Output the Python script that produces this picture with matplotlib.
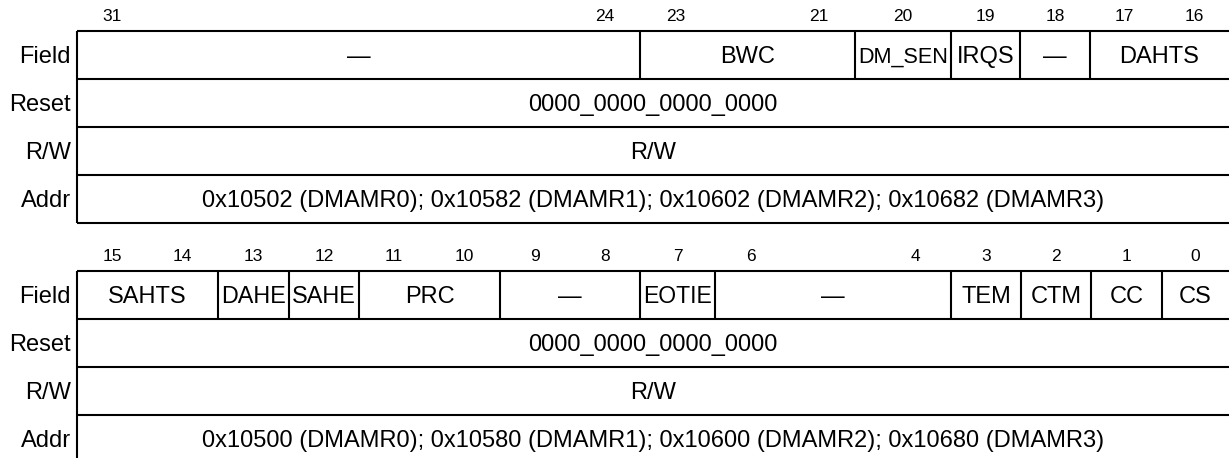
import matplotlib
matplotlib.use("Agg")
import matplotlib.pyplot as plt

# ---------------- data ----------------
row_labels = ["Field", "Reset", "R/W", "Addr"]

hi_fields = ["\u2014", "BWC", "DM_SEN", "IRQS", "\u2014", "DAHTS"]
hi_msb = [31, 23, 20, 19, 18, 17]
hi_lsb = [24, 21, 20, 19, 18, 16]
hi_reset = "0000_0000_0000_0000"
hi_rw = "R/W"
hi_addr = "0x10502 (DMAMR0); 0x10582 (DMAMR1); 0x10602 (DMAMR2); 0x10682 (DMAMR3)"

lo_fields = ["SAHTS", "DAHE", "SAHE", "PRC", "\u2014", "EOTIE", "\u2014", "TEM", "CTM", "CC", "CS"]
lo_msb = [15, 13, 12, 11, 9, 7, 6, 3, 2, 1, 0]
lo_lsb = [14, 13, 12, 10, 8, 7, 4, 3, 2, 1, 0]
lo_reset = "0000_0000_0000_0000"
lo_rw = "R/W"
lo_addr = "0x10500 (DMAMR0); 0x10580 (DMAMR1); 0x10600 (DMAMR2); 0x10680 (DMAMR3)"

# ---------------- layout (pixels) ----------------
W, H = 1229, 458
X0 = 77
hi_widths = [563, 215, 96, 69, 70, 139]
lo_widths = [141, 71, 70, 141, 140, 75, 236, 70, 70, 71, 67]
SEC_TOP = [31, 271]
ROW_H = 48
FS = 17
BIT_FS = 12.5
LW = 1.5
FONT = ["Liberation Sans", "DejaVu Sans"]

fig = plt.figure(figsize=(W / 100, H / 100), dpi=100)
ax = fig.add_axes([0, 0, 1, 1])
ax.set_xlim(0, W)
ax.set_ylim(H, 0)
ax.axis("off")
renderer = fig.canvas.get_renderer()


def put(x, y_center, s, ha="center", fs=FS, maxw=None):
    t = ax.text(x, y_center + 0.716 * fs * 100 / 72 / 2, s, ha=ha, va="baseline",
                fontsize=fs, family=FONT, color="black")
    if maxw is not None:
        w = t.get_window_extent(renderer).width
        if w > maxw:
            nfs = fs * maxw / w
            t.set_fontsize(nfs)
            t.set_y(y_center + 0.716 * nfs * 100 / 72 / 2)
    return t


def section(top, fields, msb, lsb, widths, reset, rw, addr):
    for i in range(5):
        y = top + i * ROW_H
        if y <= H:
            ax.plot([X0, W], [y, y], color="black", lw=LW, solid_capstyle="butt")
    ax.plot([X0, X0], [top, min(top + 4 * ROW_H, H + 2)], color="black", lw=LW,
            solid_capstyle="butt")
    for i, lab in enumerate(row_labels):
        put(X0 - 6, top + (i + 0.5) * ROW_H, lab, ha="right")
    x = X0
    for k, (name, m, l, w) in enumerate(zip(fields, msb, lsb, widths)):
        if k > 0:
            ax.plot([x, x], [top, top + ROW_H], color="black", lw=LW, solid_capstyle="butt")
        put(x + w / 2, top + 0.5 * ROW_H, name, maxw=w - 6)
        nb = m - l + 1
        bw = min(w / nb, 72)
        by = top - 16
        if nb == 1:
            put(x + w / 2, by, str(m), fs=BIT_FS)
        else:
            put(x + bw / 2, by, str(m), fs=BIT_FS)
            put(x + w - bw / 2, by, str(l), fs=BIT_FS)
        x += w
    cx = (X0 + W) / 2
    put(cx, top + 1.5 * ROW_H, reset)
    put(cx, top + 2.5 * ROW_H, rw)
    put(cx, top + 3.5 * ROW_H, addr)


section(SEC_TOP[0], hi_fields, hi_msb, hi_lsb, hi_widths, hi_reset, hi_rw, hi_addr)
section(SEC_TOP[1], lo_fields, lo_msb, lo_lsb, lo_widths, lo_reset, lo_rw, lo_addr)

fig.savefig("out.png", dpi=100, facecolor="white")
